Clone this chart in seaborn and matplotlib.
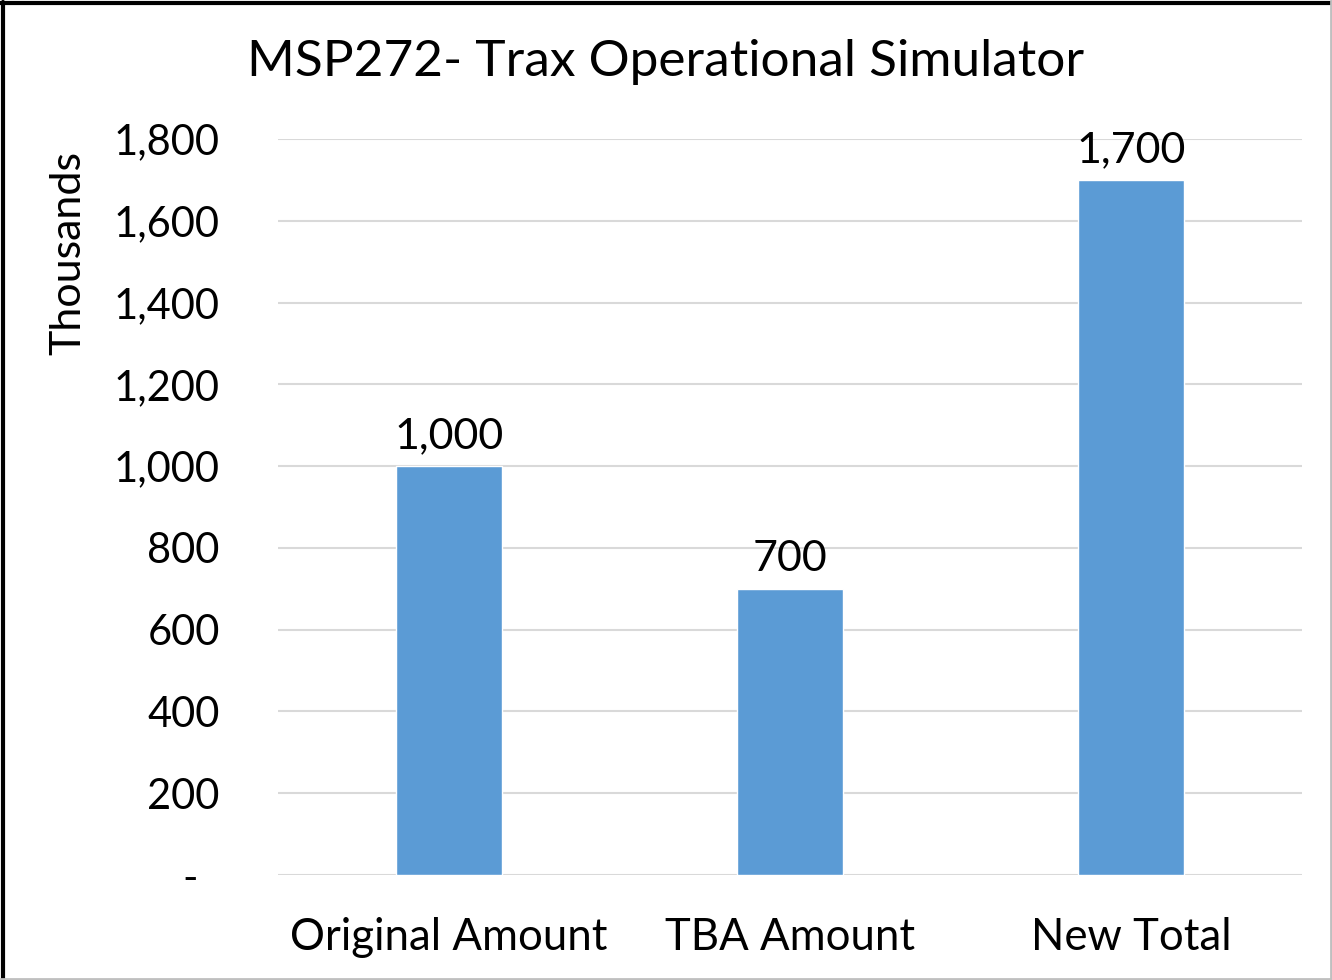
import pandas as pd
import matplotlib.pyplot as plt
import seaborn as sns
from matplotlib.lines import Line2D
from matplotlib.ticker import FuncFormatter

# values in thousands
categories = ["Original Amount", "TBA Amount", "New Total"]
amounts = [1000, 700, 1700]
y_ticks = [0, 200, 400, 600, 800, 1000, 1200, 1400, 1600, 1800]

df = pd.DataFrame({"category": categories, "amount": amounts})

sns.set_theme(style="white")
plt.rcParams['font.family'] = ['Lato', 'DejaVu Sans']
plt.rcParams['text.color'] = 'black'

fig = plt.figure(figsize=(13.32, 9.8), dpi=100)
ax = fig.add_axes([0.2087, 0.1071, 0.7688, 0.7511])

sns.barplot(data=df, x="category", y="amount", color="#5B9BD5", width=0.31,
            saturation=1, ax=ax)

ax.set_ylim(0, 1800)
ax.set_xlim(-0.5, 2.5)
ax.set_yticks(y_ticks)
ax.yaxis.set_major_formatter(FuncFormatter(lambda v, p: "-  " if v == 0 else f"{int(v):,}"))
ax.yaxis.grid(True, color="#D9D9D9", linewidth=1.5)
ax.set_axisbelow(True)
for s in ax.spines.values():
    s.set_visible(False)
ax.tick_params(axis="y", length=0, pad=42, labelsize=30, labelcolor="black")
ax.tick_params(axis="x", length=0, pad=30, labelsize=31.5, labelcolor="black")
ax.set_xlabel("")
ax.set_ylabel("")

for c in ax.containers:
    ax.bar_label(c, labels=[f"{v:,}" for v in amounts], padding=8, fontsize=31,
                 color="black")

fig.suptitle("MSP272- Trax Operational Simulator", x=0.5, y=1 - 62 / 980,
             fontsize=37, va="center", color="black")
fig.text(68 / 1332, 1 - 253 / 980, "Thousands", rotation=90, fontsize=31,
         ha="center", va="center", color="black")

# frame around the chart
fig.add_artist(Line2D([0.002, 0.002], [0, 0.998], color="black", lw=3, transform=fig.transFigure))
fig.add_artist(Line2D([0, 1], [0.997, 0.997], color="black", lw=3, transform=fig.transFigure))
fig.add_artist(Line2D([0, 1], [0.001, 0.001], color="#BFBFBF", lw=2, transform=fig.transFigure))
fig.add_artist(Line2D([0.999, 0.999], [0, 1], color="#BFBFBF", lw=2, transform=fig.transFigure))

plt.savefig("out.png", dpi=100)
